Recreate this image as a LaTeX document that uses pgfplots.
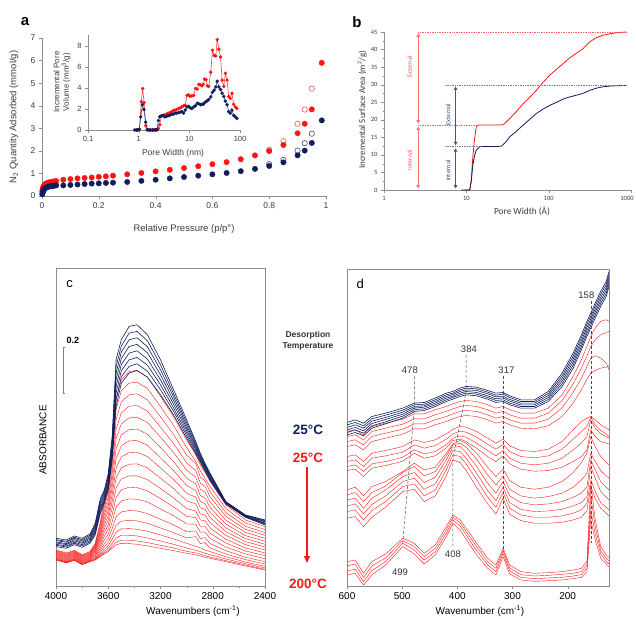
\documentclass[border=0pt]{standalone}
\usepackage{fontspec}
\setmainfont{Liberation Sans}
\newfontfamily\calibri{Carlito}
\usepackage{pgfplots}
\pgfplotsset{compat=1.18}
\usepackage{pgfplotstable}
\usetikzlibrary{arrows.meta}

\definecolor{redc}{RGB}{250,22,22}
\definecolor{navy}{RGB}{16,30,92}
\definecolor{axgray}{RGB}{140,140,140}
\definecolor{txtgray}{RGB}{60,60,60}

% panel c: IR spectra (heights in arbitrary units), navy n1..n8, red r1..r18
\pgfplotstableread{
x n1 n2 n3 n4 n5 n6 n7 n8 r1 r2 r3 r4 r5 r6 r7 r8 r9 r10 r11 r12 r13 r14 r15 r16 r17 r18
4000 165 161 158 154 151 147 144 140 130 128 126 124 122 120 118 116 114 112 110 108 106 104 103 101 101 100
3920 160 156 153 149 146 142 139 135 121 119 117 115 113 111 109 107 105 103 101 99 97 95 94 92 92 91
3860 172 168 165 161 157 153 150 146 129 127 125 123 121 119 117 115 113 111 109 107 105 103 102 100 100 99
3800 165 161 157 153 150 146 142 138 116 114 112 110 108 106 104 102 100 98 96 94 92 90 89 87 87 86
3740 178 174 170 166 162 158 154 150 125 123 121 119 117 115 113 111 109 107 105 103 101 99 98 96 96 95
3700 210 205 200 195 190 185 180 175 150 147 143 140 137 133 130 126 123 120 116 113 110 107 104 102 101 100
3660 285 279 272 266 259 253 246 240 215 208 201 194 187 180 173 166 159 151 144 137 130 124 119 115 112 110
3630 310 304 299 293 287 281 276 270 280 269 258 247 236 225 215 204 193 182 171 160 149 140 132 126 121 118
3600 360 353 346 339 331 324 317 310 330 316 302 289 275 261 247 233 220 206 192 178 164 153 143 135 129 125
3570 470 460 450 440 430 420 410 400 440 420 399 378 358 337 317 296 276 255 235 214 194 176 162 150 141 135
3540 700 680 660 640 620 600 580 560 580 551 521 492 463 433 404 375 346 316 287 258 229 204 183 166 153 145
3500 760 741 723 704 686 667 649 630 640 607 574 541 508 475 442 409 376 343 310 277 244 216 193 174 159 150
3440 800 780 760 740 720 700 680 660 665 630 595 561 526 491 457 422 387 352 318 283 248 219 194 174 159 149
3380 805 785 766 746 727 707 688 668 668 633 598 563 528 492 458 423 388 352 317 282 247 217 192 172 157 147
3300 775 757 739 721 702 684 666 648 648 614 580 546 512 477 444 410 376 341 307 274 239 210 186 166 152 142
3200 700 685 670 655 640 625 610 595 590 560 529 498 468 437 406 376 345 314 284 253 222 196 175 157 144 135
3100 610 599 589 578 567 556 546 535 530 503 476 449 422 395 368 341 314 286 259 233 205 182 163 147 136 128
3000 520 512 504 496 489 481 473 465 460 437 414 391 369 345 323 300 277 254 231 208 185 166 150 136 126 120
2930 455 450 444 439 434 429 423 418 415 395 389 368 348 328 308 288 268 247 227 207 187 170 141 129 121 115
2895 420 416 412 408 404 400 396 392 385 367 348 330 312 293 275 256 238 220 201 183 164 149 136 125 117 112
2860 390 387 383 380 377 374 370 367 362 345 338 321 304 286 269 252 235 218 201 184 167 152 130 120 113 108
2820 360 357 354 351 347 344 341 338 335 320 304 289 273 257 242 227 211 196 180 165 149 136 125 116 109 105
2700 275 274 273 272 271 270 269 268 265 254 242 231 219 208 196 185 174 162 151 139 128 118 110 103 98 95
2550 235 234 233 232 231 230 229 228 220 211 201 192 183 173 164 155 146 136 127 118 108 101 94 89 85 82
2400 220 218 216 214 211 209 207 205 200 191 182 174 165 156 147 139 130 121 113 104 95 88 81 76 72 70
}\tabc

% panel d: far-IR spectra, navy n1..n6, red a1..a8, b1..b6, c1..c4
\pgfplotstableread{
x n1 n2 n3 n4 n5 n6 a1 a2 a3 a4 a5 a6 a7 a8 b1 b2 b3 b4 b5 b6 c1 c2 c3 c4
600 512 505 497 490 482 475 485 470 455 440 410 395 380 368 310 295 280 262 245 225 95 82 68 55
585 520 512 505 497 490 482 490 475 460 445 415 400 385 372 318 302 285 268 250 230 100 88 72 60
570 510 502 495 487 480 472 475 460 445 430 395 380 365 350 292 275 255 238 220 200 60 48 35 25
555 530 523 516 509 502 495 500 485 470 455 420 405 388 375 320 302 285 266 248 228 95 82 68 55
530 540 534 527 521 514 508 510 495 480 465 428 412 395 383 335 322 310 292 275 258 118 106 95 85
499 555 549 543 537 531 525 522 507 492 477 440 423 408 396 365 362 350 335 320 305 165 158 150 140
478 570 565 560 555 550 545 538 523 508 493 460 445 430 420 390 380 362 345 328 312 150 140 130 118
460 572 567 562 558 553 548 538 523 508 493 452 435 418 405 370 352 332 312 292 275 120 110 100 88
440 585 580 575 570 565 560 550 535 520 505 460 443 425 412 378 365 348 328 310 292 145 135 125 115
420 600 595 590 585 580 575 560 545 530 515 478 462 446 436 420 412 400 385 370 352 200 190 180 170
408 605 600 596 591 587 582 568 553 538 523 492 478 465 458 448 445 438 428 415 400 235 228 220 210
395 615 610 605 600 595 590 575 560 545 530 500 486 472 462 458 450 440 425 410 392 220 212 202 190
384 620 615 610 605 600 595 578 563 548 533 498 483 468 455 450 438 422 405 388 368 195 185 175 162
365 618 613 608 602 597 592 575 560 545 530 485 468 450 435 420 402 380 360 340 318 150 140 128 115
345 608 603 598 592 587 582 565 550 535 520 465 447 428 410 378 355 330 308 288 268 105 95 85 75
330 600 594 589 583 578 572 555 540 525 510 450 432 412 395 350 325 300 278 258 238 85 75 65 55
317 602 597 591 586 580 575 560 545 530 515 462 446 428 412 372 352 335 318 302 285 135 128 120 110
305 592 587 581 576 570 565 550 535 520 505 442 425 405 388 338 312 292 272 255 237 85 76 67 58
285 580 575 570 565 560 555 540 525 510 495 428 410 390 372 318 292 272 252 235 218 65 56 48 40
260 580 575 570 565 560 555 540 525 510 493 425 406 385 366 312 285 265 245 228 210 60 52 44 36
235 605 599 593 587 581 575 555 540 522 502 432 412 390 368 318 290 268 247 228 210 62 54 46 38
210 660 652 644 636 628 620 595 578 556 530 455 432 405 378 335 300 275 252 232 213 65 57 48 40
190 720 711 702 693 684 675 650 628 602 570 490 462 430 395 362 318 288 262 240 220 70 60 52 44
175 775 766 757 748 739 730 700 675 645 610 515 485 450 410 392 340 300 272 250 228 75 65 56 48
165 815 806 797 788 779 770 740 712 680 642 525 500 470 430 420 360 320 290 270 248 95 85 75 65
158 840 831 822 813 804 795 770 740 705 660 530 528 520 490 470 420 400 380 340 320 330 290 250 220
150 870 861 852 843 834 825 795 760 712 668 520 505 495 470 440 395 370 345 305 285 220 200 178 160
140 905 896 887 878 869 860 815 775 705 675 505 488 478 455 410 368 335 305 272 255 140 128 118 105
130 935 926 917 908 899 890 820 782 690 678 495 478 470 450 392 352 318 288 258 240 115 105 96 88
125 965 956 947 938 929 920 815 785 670 680 490 470 465 448 385 345 310 280 250 232 108 98 88 80
}\tabd

\begin{document}
\begin{tikzpicture}
\path[use as bounding box] (0pt,0pt) rectangle (636pt,618pt);

% ---------------- panel a: isotherms
\begin{axis}[at={(42pt,422pt)}, anchor=south west, scale only axis,
  width=284pt, height=158pt, xmin=0, xmax=1, ymin=0, ymax=7,
  axis lines*=left, axis line style={axgray, line width=0.6pt},
  xtick={0,0.2,0.4,0.6,0.8,1}, ytick={0,1,2,3,4,5,6,7},
  tick align=outside, major tick length=3pt, tick style={axgray},
  tick label style={font=\fontsize{8.5}{10}\selectfont, text=txtgray},
  /pgf/number format/assume math mode=true, clip=false]
\addplot[only marks, mark=o, mark size=2.7pt, mark options={redc!75, line width=0.6pt}] coordinates {
(0.8,2.05)(0.85,2.43)(0.9,3.2)(0.925,3.83)(0.95,4.76)};
\addplot[only marks, mark=o, mark size=2.7pt, mark options={navy!80, line width=0.6pt}] coordinates {
(0.8,1.41)(0.85,1.6)(0.9,2.01)(0.925,2.34)(0.95,2.76)};
\addplot[only marks, mark=*, mark size=2.7pt, mark options={redc, draw=redc}] coordinates {
(0.001,0.2)(0.002,0.28)(0.003,0.34)(0.004,0.39)(0.006,0.44)(0.008,0.48)(0.01,0.51)(0.013,0.54)
(0.016,0.56)(0.02,0.58)(0.025,0.6)(0.03,0.62)(0.035,0.63)(0.04,0.64)(0.045,0.65)(0.05,0.66)
(0.075,0.72)(0.1,0.75)(0.125,0.78)(0.15,0.8)(0.175,0.82)(0.2,0.85)(0.225,0.87)(0.25,0.9)
(0.3,0.96)(0.35,1.02)(0.4,1.09)(0.45,1.16)(0.5,1.24)(0.55,1.32)(0.6,1.41)(0.65,1.5)(0.7,1.63)
(0.75,1.8)(0.8,1.99)(0.85,2.26)(0.9,2.78)(0.925,3.2)(0.95,3.84)(0.985,5.9)};
\addplot[only marks, mark=*, mark size=2.7pt, mark options={navy, draw=navy}] coordinates {
(0.001,0.08)(0.002,0.13)(0.003,0.18)(0.004,0.22)(0.006,0.27)(0.008,0.3)(0.01,0.33)(0.013,0.36)
(0.016,0.38)(0.02,0.4)(0.025,0.42)(0.03,0.43)(0.035,0.44)(0.04,0.45)(0.045,0.46)(0.05,0.47)
(0.075,0.47)(0.1,0.49)(0.125,0.51)(0.15,0.53)(0.175,0.55)(0.2,0.56)(0.225,0.58)(0.25,0.59)
(0.3,0.62)(0.35,0.67)(0.4,0.72)(0.45,0.78)(0.5,0.84)(0.55,0.9)(0.6,0.96)(0.65,1.02)(0.7,1.1)
(0.75,1.2)(0.8,1.33)(0.85,1.49)(0.9,1.8)(0.925,2.01)(0.95,2.35)(0.985,3.35)};
\end{axis}

% inset: pore size distribution
\begin{axis}[at={(88pt,488pt)}, anchor=south west, scale only axis,
  width=152pt, height=94.5pt, xmode=log, xmin=0.1, xmax=100, ymin=0, ymax=9,
  axis lines*=left, axis line style={axgray, line width=0.6pt},
  xtick={0.1,1,10,100}, xticklabels={0.1,1,10,100}, ytick={0,2,4,6,8},
  xminorticks=false, tick align=outside, major tick length=3pt, tick style={axgray},
  tick label style={font=\fontsize{7.5}{9}\selectfont, text=txtgray},
  /pgf/number format/assume math mode=true, clip=false]
\addplot[redc!80, line width=0.6pt, mark=*, mark size=1.4pt, mark options={redc}] coordinates {
(0.84,0)(0.9,0)(0.96,0)(1.03,0.1)(1.13,2.7)(1.2,3.95)(1.28,2.6)(1.38,0.4)(1.48,0)(1.6,0)(1.72,0)
(1.85,0)(2,0)(2.15,0)(2.3,0)(2.45,0.15)(2.6,0.5)(2.8,1.3)(3.05,1.35)(3.3,1.45)(3.55,1.5)(3.8,1.6)
(4.1,1.65)(4.5,1.75)(4.85,1.85)(5.2,1.9)(5.6,1.95)(6.1,2.05)(6.6,2.1)(7.1,2.2)(7.7,2.3)(8.3,2.35)
(9.0,3.3)(9.7,3.35)(10.4,3.2)(11.2,3.25)(12.2,3.3)(13.2,3.95)(14.3,3.9)(15.4,4.35)(16.6,4.3)
(17.8,4.2)(18.8,4.35)(20,4.85)(21.3,4.8)(22.7,4.2)(24.1,4.15)(26.5,5.5)(28.6,7.6)(30.9,7.1)
(33.3,7.05)(35.5,8.6)(38.3,7.7)(41.3,6.95)(44.4,4.75)(47.8,4.15)(51.5,5.4)(55.5,4.75)(59.8,3.2)
(64.4,3.0)(69.4,3.5)(74.8,2.45)(80.6,2.2)(86.9,2.05)};
\addplot[navy!85, line width=0.6pt, mark=*, mark size=1.4pt, mark options={navy}] coordinates {
(0.84,0)(0.9,0)(0.96,0)(1.03,0.05)(1.1,1.25)(1.18,2.4)(1.27,1.95)(1.37,0.75)(1.48,0.05)(1.6,0)
(1.72,0)(1.85,0)(2,0)(2.15,0)(2.3,0.05)(2.45,0.9)(2.6,1.25)(2.8,1.35)(3.05,1.4)(3.3,1.25)(3.55,1.3)
(3.8,1.35)(4.1,1.4)(4.5,1.5)(4.85,1.5)(5.2,1.6)(5.6,1.6)(6.1,1.65)(6.6,1.7)(7.1,1.75)(7.7,1.6)
(8.3,1.9)(9.0,2.2)(9.7,2.25)(10.4,2.1)(11.2,2.05)(12.2,2.2)(13.2,2.3)(14.3,2.55)(15.4,2.5)
(16.6,2.4)(17.8,2.45)(18.8,2.45)(20,2.6)(21.3,2.7)(22.7,2.8)(24.1,2.9)(26.5,3.15)(28.6,3.6)
(30.9,3.8)(33.3,4.1)(35.5,4.65)(38.3,4.1)(41.3,3.85)(44.4,3.5)(47.8,3.2)(51.5,2.75)(55.5,2.4)
(59.8,1.75)(64.4,1.6)(69.4,1.9)(74.8,1.4)(80.6,1.25)(86.9,1.1)};
\end{axis}

% ---------------- panel b: cumulative surface area
\begin{axis}[at={(384pt,428pt)}, anchor=south west, scale only axis,
  width=247pt, height=158pt, xmode=log, xmin=1, xmax=1000, ymin=0, ymax=45,
  axis lines*=left, axis line style={axgray, line width=0.6pt},
  xtick={1,10,100,1000}, xticklabels={1,10,100,\hspace*{-8pt}1000}, ytick={0,5,...,45},
  minor y tick num=1, tick align=outside, major tick length=3pt, minor tick length=1.5pt,
  tick style={axgray},
  tick label style={font=\calibri\fontsize{6.5}{8}\selectfont, text=txtgray},
  /pgf/number format/assume math mode=true, clip=false]
\addplot[redc, line width=0.8pt] coordinates {
(9.5,0)(10,0)(11,0)(11.5,3)(11.9,8.5)(12.5,14)(13.2,18)(14,18.5)(16,18.5)(20,18.5)(25,18.5)
(28,18.6)(30,19.2)(33.8,20.4)(40,22.2)(49,24.6)(60,26.6)(71,28.4)(85,30.6)(103,32.7)(125,34.4)
(150,36)(180,37.6)(218,39)(260,40.2)(316,42.2)(380,43.4)(459,44.1)(560,44.5)(666,44.8)(884,45)};
\addplot[navy, line width=0.8pt] coordinates {
(8.7,0)(10,0)(11,0)(11.5,2.5)(11.9,6.6)(12.6,9.8)(13.2,11.4)(14.6,12.3)(17,12.4)(20,12.4)
(24,12.4)(26.7,12.5)(30,13.6)(33.8,15.2)(40,16.6)(49,18.5)(60,20.3)(71,21.8)(85,23)(103,24.1)
(125,25)(150,25.9)(180,26.5)(218,27)(260,27.5)(316,28.4)(380,29)(459,29.4)(560,29.6)(666,29.7)(884,29.8)};
\draw[redc!70, densely dotted, line width=0.7pt] (axis cs:2.6,45) -- (axis cs:884,45);
\draw[redc!70, densely dotted, line width=0.7pt] (axis cs:2.6,18.5) -- (axis cs:13.5,18.5);
\draw[navy!60, densely dotted, line width=0.7pt] (axis cs:5.5,29.9) -- (axis cs:884,29.9);
\draw[navy!60, densely dotted, line width=0.7pt] (axis cs:5.5,12.3) -- (axis cs:14.6,12.3);
\draw[redc!60, line width=0.9pt, {Triangle[length=3.5pt,width=3.5pt]}-{Triangle[length=3.5pt,width=3.5pt]}]
  (axis cs:2.6,0.4) -- (axis cs:2.6,18.1);
\draw[redc!60, line width=0.9pt, {Triangle[length=3.5pt,width=3.5pt]}-{Triangle[length=3.5pt,width=3.5pt]}]
  (axis cs:2.6,18.9) -- (axis cs:2.6,44.6);
\draw[navy!75, line width=0.9pt, {Triangle[length=3.5pt,width=3.5pt]}-{Triangle[length=3.5pt,width=3.5pt]}]
  (axis cs:7.4,0.4) -- (axis cs:7.4,11.9);
\draw[navy!75, line width=0.9pt, {Triangle[length=3.5pt,width=3.5pt]}-{Triangle[length=3.5pt,width=3.5pt]}]
  (axis cs:7.4,12.7) -- (axis cs:7.4,29.5);
\node[rotate=90, text=redc!70, font=\calibri\fontsize{6.5}{7}\selectfont] at (axis cs:2.05,35) {External};
\node[rotate=90, text=redc!70, font=\calibri\fontsize{6.5}{7}\selectfont] at (axis cs:2.05,8.5) {Internal};
\node[rotate=90, text=navy!80, font=\calibri\fontsize{6.5}{7}\selectfont] at (axis cs:6.0,21.5) {External};
\node[rotate=90, text=navy!80, font=\calibri\fontsize{6.5}{7}\selectfont] at (axis cs:6.0,5.5) {Internal};
\end{axis}

% ---------------- panel c: IR spectra
\begin{axis}[at={(56pt,32pt)}, anchor=south west, scale only axis,
  width=209pt, height=318pt, x dir=reverse, xmin=2400, xmax=4000, ymin=22, ymax=975,
  ytick=\empty, xtick={2400,2800,3200,3600,4000}, minor x tick num=1, xtick pos=bottom,
  tick align=outside, major tick length=3pt, minor tick length=2pt,
  axis line style={axgray}, tick style={axgray},
  tick label style={font=\fontsize{10}{12}\selectfont},
  /pgf/number format/assume math mode=true, /pgf/number format/set thousands separator={}]
\pgfplotsinvokeforeach{r1,r2,r3,r4,r5,r6,r7,r8,r9,r10,r11,r12,r13,r14,r15,r16,r17,r18}{
  \addplot[redc, line width=0.4pt] table[x=x, y=#1] {\tabc};}
\pgfplotsinvokeforeach{n1,n2,n3,n4,n5,n6,n7,n8}{
  \addplot[navy, line width=0.6pt] table[x=x, y=#1] {\tabc};}
\node[font=\fontsize{13}{15}\selectfont] at (axis cs:3895,928) {c};
\draw[gray, line width=0.5pt] (axis cs:3941,600) -- (axis cs:3941,738);
\draw[gray, line width=0.5pt] (axis cs:3950,600) -- (axis cs:3932,600);
\draw[gray, line width=0.5pt] (axis cs:3950,738) -- (axis cs:3932,738);
\node[font=\bfseries\fontsize{9}{11}\selectfont] at (axis cs:3870,757) {0.2};
\end{axis}

% ---------------- panel d: far-IR spectra
\begin{axis}[at={(347pt,32pt)}, anchor=south west, scale only axis,
  width=262pt, height=317pt, x dir=reverse, xmin=125, xmax=600, ymin=22, ymax=972,
  ytick=\empty, xtick={200,300,400,500,600}, xtick pos=bottom,
  tick align=outside, major tick length=3pt,
  axis line style={axgray}, tick style={axgray},
  tick label style={font=\fontsize{10}{12}\selectfont},
  /pgf/number format/assume math mode=true]
\pgfplotsinvokeforeach{a1,a2,a3,a4,a5,a6,a7,a8,b1,b2,b3,b4,b5,b6,c1,c2,c3,c4}{
  \addplot[redc, line width=0.4pt] table[x=x, y=#1] {\tabd};}
\pgfplotsinvokeforeach{n1,n2,n3,n4,n5,n6}{
  \addplot[navy, line width=0.6pt] table[x=x, y=#1] {\tabd};}
\begin{scope}[black!70, dashed, dash pattern=on 3pt off 2pt, line width=0.5pt]
\draw (axis cs:478,650) -- (axis cs:478,555) -- (axis cs:499,150);
\draw (axis cs:384,715) -- (axis cs:384,605) -- (axis cs:408,400) -- (axis cs:408,140);
\draw (axis cs:317,650) -- (axis cs:317,125);
\draw (axis cs:158,875) -- (axis cs:158,150);
\end{scope}
\begin{scope}[every node/.style={font=\fontsize{9.5}{11}\selectfont, text=black!80}]
\node at (axis cs:486,668) {478};
\node at (axis cs:379,733) {384};
\node at (axis cs:311,668) {317};
\node at (axis cs:166,893) {158};
\node at (axis cs:408,118) {408};
\node at (axis cs:504,63) {499};
\end{scope}
\node[font=\fontsize{13}{15}\selectfont] at (axis cs:576,928) {d};
\end{axis}

% ---------------- labels
\node[font=\bfseries\fontsize{15}{17}\selectfont] at (25pt,596pt) {a};
\node[font=\bfseries\fontsize{15}{17}\selectfont] at (357pt,596pt) {b};
\node[font=\fontsize{9.5}{11}\selectfont, text=txtgray] at (184pt,389pt) {Relative Pressure (p/p°)};
\node[rotate=90, font=\fontsize{9.5}{11}\selectfont, text=txtgray] at (14pt,501pt) {N\textsubscript{2} Quantity Adsorbed (mmol/g)};
\node[rotate=90, align=center, font=\fontsize{8}{9.5}\selectfont, text=txtgray] at (62pt,536pt) {Incremental Pore\\Volume (mm\textsuperscript{3}/g)};
\node[font=\fontsize{8.5}{10}\selectfont, text=txtgray] at (173pt,465pt) {Pore Width (nm)};
\node[rotate=90, font=\calibri\fontsize{9}{11}\selectfont, text=txtgray] at (362pt,508pt) {Incremental Surface Area (m\textsuperscript{2}/g)};
\node[font=\calibri\fontsize{9.3}{11}\selectfont, text=txtgray] at (522pt,407pt) {Pore Width (Å)};
\node[font=\fontsize{10}{12}\selectfont] at (193pt,7pt) {Wavenumbers (cm\textsuperscript{-1})};
\node[rotate=90, font=\fontsize{10}{12}\selectfont] at (43pt,178pt) {ABSORBANCE};
\node[font=\fontsize{10}{12}\selectfont] at (480pt,7pt) {Wavenumber (cm\textsuperscript{-1})};
\node[align=center, font=\bfseries\fontsize{8.5}{11}\selectfont, text=black!80] at (308pt,277pt) {Desorption\\Temperature};
\node[font=\bfseries\fontsize{13.5}{15}\selectfont, text=navy] at (308pt,188pt) {25°C};
\node[font=\bfseries\fontsize{13.5}{15}\selectfont, text=redc] at (308pt,160pt) {25°C};
\draw[redc, line width=1.3pt, -{Triangle[length=7pt,width=6pt]}] (307pt,151pt) -- (307pt,55pt);
\node[font=\bfseries\fontsize{13.5}{15}\selectfont, text=redc] at (308pt,34pt) {200°C};
\end{tikzpicture}
\end{document}
